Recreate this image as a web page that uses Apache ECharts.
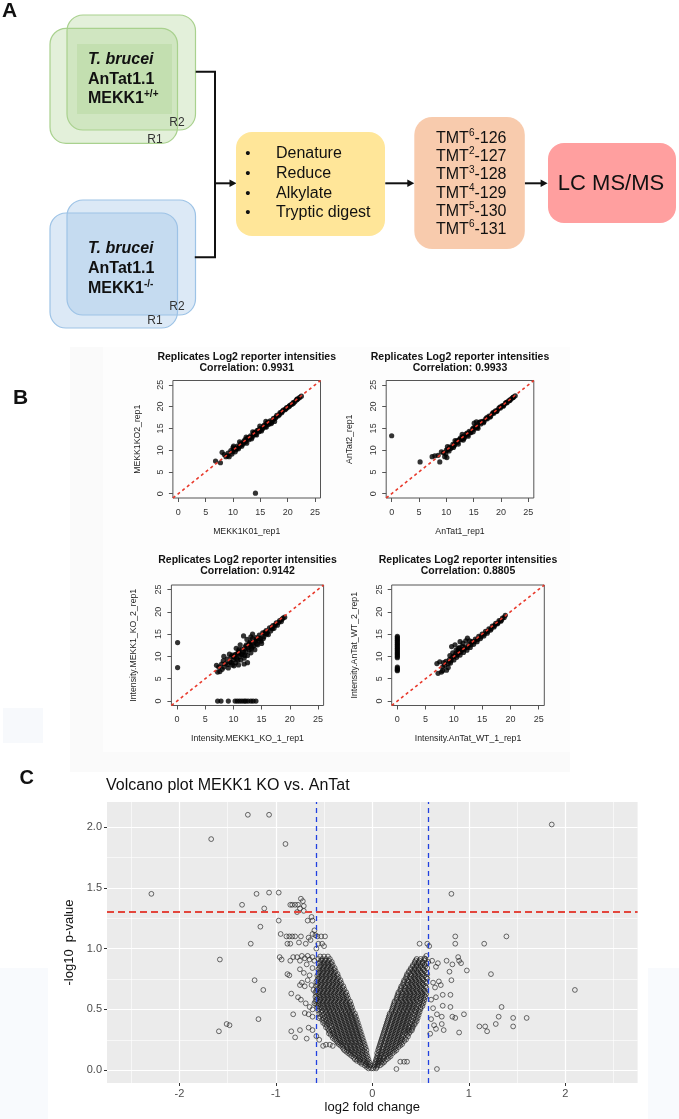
<!DOCTYPE html>
<html>
<head>
<meta charset="utf-8">
<title>MEKK1 KO proteomics</title>
<script src="https://cdn.jsdelivr.net/npm/echarts@6/dist/echarts.min.js"></script>
<style>
  html, body { margin: 0; padding: 0; background: #fff; }
  #chart { width: 679px; height: 1119px; }
</style>
</head>
<body>
<div id="chart"></div>
<script>
// ---------- data ----------
const FONT = "'Liberation Sans', Arial, sans-serif";

// panel B: four replicate scatter plots (log2 reporter intensities)
const rTicks = [0, 5, 10, 15, 20, 25];
const diagLine = [[-1, -1], [26, 26]];
const plotTitles = ['Replicates Log2 reporter intensities', 'Replicates Log2 reporter intensities',
                    'Replicates Log2 reporter intensities', 'Replicates Log2 reporter intensities'];
const plotCorr = ['Correlation: 0.9931', 'Correlation: 0.9933', 'Correlation: 0.9142', 'Correlation: 0.8805'];
const xNames = ['MEKK1K01_rep1', 'AnTat1_rep1', 'Intensity.MEKK1_KO_1_rep1', 'Intensity.AnTat_WT_1_rep1'];
const yNames = ['MEKK1KO2_rep1', 'AnTat2_rep1', 'Intensity.MEKK1_KO_2_rep1', 'Intensity.AnTat_WT_2_rep1'];

const koRepPoints = [
  [14.1,0.1],[6.8,7.5],[7.7,7.1],[8.0,9.5],[8.4,9.0],[8.7,8.5],[9.3,8.5],[9.1,9.3],[9.0,8.7],
  [9.6,9.9],[9.9,9.6],[10.2,10.3],[10.5,10.1],[10.8,10.9],[11.1,10.7],[11.4,11.5],[11.7,11.3],
  [12.0,12.1],[12.3,11.9],[12.6,12.7],[12.9,12.4],[13.2,13.3],[13.5,13.0],[13.8,13.9],[14.1,13.6],
  [14.4,14.5],[14.7,14.2],[15.0,15.0],[15.3,14.8],[15.6,15.6],[15.9,15.4],[16.2,16.2],[16.5,15.9],
  [16.8,16.7],[17.1,16.4],[17.4,17.3],[17.7,17.3],[18.0,18.0],[18.3,17.9],[18.6,18.6],[18.9,18.6],
  [19.2,19.2],[19.5,19.3],[19.8,19.8],[20.1,19.9],[20.4,20.3],[20.7,20.5],[21.0,20.9],[21.3,21.1],
  [21.6,21.5],[21.9,21.8],[22.2,22.1],[22.5,22.4],
  [10.4,9.6],[11.0,10.3],[11.6,10.9],[12.5,11.6],[13.4,12.6],[14.3,13.5],[15.2,14.4],[16.1,15.3],
  [17.0,16.1],[17.6,16.6],[10.0,10.6],[11.2,11.9],[12.4,13.0],[13.6,14.2],[14.9,15.5],[16.0,16.6],
  [9.8,9.1],[10.1,10.9],
  [10.7,10.4],[11.3,11.0],[11.9,11.6],[12.2,12.4],[12.8,12.9],[13.1,12.8],[13.7,13.4],[14.0,14.1],
  [14.6,14.6],[14.9,14.4],[15.5,15.1],[15.8,15.8],[16.4,16.4],[16.7,16.2],[17.3,16.9],[17.9,17.6],
  [18.5,18.2],[19.0,18.9],[19.7,19.5],[20.3,20.1],[21.0,20.7],[21.7,21.7]
];
const wtRepPoints = [
  [0,13.3],[5.2,7.3],[7.4,8.5],[7.9,8.7],[8.5,8.8],[8.8,7.3],[9.1,9.6],[9.5,9.4],[9.7,8.5],[9.9,9.1],[10.1,8.3],
  [10.0,10.0],[10.3,10.1],[10.6,10.7],[10.9,10.6],[11.2,11.3],[11.5,11.2],[11.8,11.9],[12.1,11.8],
  [12.4,12.5],[12.7,12.4],[13.0,13.1],[13.3,12.9],[13.6,13.7],[13.9,13.5],[14.2,14.3],[14.5,14.1],
  [14.8,14.9],[15.1,14.8],[15.4,15.5],[15.7,15.4],[16.0,16.3],[16.3,16.0],[16.6,16.6],[16.9,16.6],
  [17.2,17.2],[17.5,17.2],[17.8,17.8],[18.1,17.8],[18.4,18.4],[18.7,18.5],[19.0,19.0],[19.3,19.1],
  [19.6,19.6],[19.9,19.7],[20.2,20.2],[20.5,20.3],[20.8,20.8],[21.1,20.9],[21.4,21.3],[21.7,21.6],
  [22.0,21.9],[22.3,22.2],[22.6,22.5],
  [10.5,9.8],[11.3,10.6],[12.2,11.4],[13.1,12.3],[14.0,13.2],[14.9,14.2],[15.8,15.0],[15.1,16.2],
  [15.5,16.5],[10.2,10.8],[11.6,12.2],[12.9,13.6],
  [10.8,10.4],[11.4,11.0],[12.0,12.2],[12.6,12.8],[13.2,12.7],[13.8,13.9],[14.4,14.0],[15.0,15.1],
  [15.6,15.2],[16.2,16.5],[16.8,16.3],[17.4,17.5],[18.0,17.6],[18.6,18.7],[19.2,18.9],[19.8,19.9],
  [20.4,20.1],[21.0,21.0],[21.6,21.4],[22.2,22.1]
];
const koIntPoints = [
  [0.1,13.1],[0.1,7.5],
  [7.2,0],[7.8,0],[9.1,0],[10.3,0],[10.7,0],[11.1,0],[11.5,0],[11.9,0],[12.2,0],[12.6,0],[13.1,0],[13.5,0],[14.0,0],
  [7.0,8.0],[7.2,6.5],[7.6,6.6],[7.4,7.6],[7.9,8.3],[8.3,7.6],[8.2,9.0],[8.6,8.4],[9.1,7.4],[8.9,9.4],
  [9.4,8.8],[9.6,9.9],[9.8,8.1],[10.0,9.2],[10.3,10.4],[10.4,8.6],[10.6,9.6],[10.9,8.1],[10.9,11.0],
  [11.1,10.0],[11.3,9.2],[11.5,11.6],[11.6,10.5],[11.9,8.3],[11.9,9.6],[12.1,12.2],[12.2,11.0],
  [12.5,8.6],[12.5,10.2],[12.7,12.7],[12.8,11.5],[13.0,13.3],[13.1,10.8],[13.3,12.1],[13.4,14.0],
  [13.6,13.1],[13.8,11.5],[14.0,14.2],[14.1,12.8],[14.4,13.6],[14.6,14.8],[14.8,14.0],[15.0,12.9],
  [15.2,15.3],[15.4,14.4],[15.8,15.8],[15.9,15.0],[16.2,14.9],[16.4,16.4],[16.6,15.7],[17.0,16.9],
  [17.2,16.3],[17.6,17.5],[17.8,17.0],[18.2,18.0],[18.5,17.8],[18.8,18.6],[19.1,18.8],
  [11.8,14.6],[13.1,14.4],[13.4,15.0],[10.5,11.8],[11.2,12.6],[12.4,13.8],[9.3,10.5],[8.3,10.0],
  [10.1,10.0],[11.0,10.8],[12.0,11.7],[13.0,12.5],[14.2,13.9],[15.6,15.1],[16.9,16.2],
  [9.8,10.3],[10.2,9.8],[10.6,10.6],[10.8,9.2],[11.0,11.5],[11.4,10.4],[11.8,11.0],[12.0,10.2],
  [12.3,12.6],[12.6,11.9],[12.9,13.0],[13.2,11.7],[13.6,12.4],[13.9,13.4],[14.3,12.6],[14.5,14.1],
  [14.9,13.4],[15.3,14.0],[15.6,15.4],[16.0,15.4],[16.8,16.5],[17.4,17.0],[18.0,17.6],[18.6,18.3],
  [9.0,8.2],[9.6,8.6],[10.1,7.9],[8.0,7.1]
];
const wtIntPoints = [
  [0,14.5],[0,14.2],[0,13.9],[0,13.6],[0,13.3],[0,13.0],[0,12.7],[0,12.4],[0,12.1],[0,11.8],[0,11.5],
  [0,11.2],[0,10.9],[0,10.6],[0,10.3],[0,10.0],[0,9.7],[0,7.6],[0,7.3],[0,7.0],[0,6.8],
  [7.0,8.4],[7.2,6.2],[7.5,8.8],[7.8,6.5],[8.0,7.6],[8.4,8.0],[8.7,6.9],[8.6,8.9],[9.0,7.5],[9.2,9.3],
  [9.4,8.5],[9.6,12.2],[9.7,9.8],[10.0,9.2],[10.2,12.6],[10.3,10.5],[10.5,9.8],[10.8,11.8],[10.9,10.9],
  [11.1,13.3],[11.1,10.3],[11.4,11.4],[11.6,12.9],[11.7,10.9],[12.0,12.1],[12.1,13.5],[12.3,11.4],
  [12.4,14.1],[12.6,12.6],[12.9,12.0],[13.2,13.3],[13.5,12.7],[13.8,13.9],[14.1,13.3],[14.4,14.5],
  [14.7,14.0],[15.0,15.0],[15.3,14.6],[15.6,15.6],[15.9,15.2],[16.2,16.2],[16.5,15.9],[16.8,16.8],
  [17.1,16.6],[17.4,17.4],[17.7,17.3],[18.0,18.0],[18.3,17.9],[18.6,18.6],[18.9,18.7],[19.1,19.2],
  [11.0,12.0],[10.4,11.4],[9.8,10.8],
  [9.0,8.4],[9.5,9.0],[10.0,10.0],[10.6,10.3],[11.2,11.0],[11.8,11.6],[12.4,12.0],[13.0,12.6],
  [13.6,13.3],[14.2,13.8],[14.8,14.4],[15.4,15.0],[16.0,15.6],[16.6,16.2],[17.2,16.9],[17.8,17.5],
  [18.4,18.1],[10.7,11.2],[11.5,12.2],[12.8,13.5],[9.3,10.2],[8.2,8.6],[8.0,6.8]
];
const repSeries = [koRepPoints, wtRepPoints, koIntPoints, wtIntPoints];

// panel C: volcano plot
const volcanoXTicks = [-2, -1, 0, 1, 2];
const volcanoXMinor = [-2.5, -1.5, -0.5, 0.5, 1.5, 2.5];
const volcanoYTicks = [0, 0.5, 1, 1.5, 2];
const volcanoYMinor = [0.25, 0.75, 1.25, 1.75];
const fcCutoffs = [-0.585, 0.585];
const pCutoff = 1.301;

// dense V, one row per p-value level: [y, [x, ...]]
const leftArmRows = [
  [0.015, [-0.01, -0.04]],
  [0.0275, [-0.03, -0.06]],
  [0.04, [-0.02, -0.05, -0.08]],
  [0.0525, [-0.04, -0.07, -0.11]],
  [0.065, [-0.03, -0.06, -0.10, -0.13]],
  [0.0775, [-0.05, -0.09, -0.13, -0.16]],
  [0.09, [-0.04, -0.08, -0.12, -0.15, -0.18]],
  [0.1025, [-0.06, -0.10, -0.14, -0.19]],
  [0.115, [-0.05, -0.09, -0.13, -0.17, -0.21]],
  [0.1275, [-0.07, -0.11, -0.15, -0.19, -0.23]],
  [0.14, [-0.06, -0.10, -0.14, -0.18, -0.22, -0.25]],
  [0.1525, [-0.08, -0.12, -0.16, -0.20, -0.24, -0.27]],
  [0.165, [-0.06, -0.10, -0.14, -0.18, -0.22, -0.26, -0.29]],
  [0.1775, [-0.08, -0.13, -0.17, -0.21, -0.25, -0.30]],
  [0.19, [-0.07, -0.11, -0.15, -0.19, -0.23, -0.27, -0.31]],
  [0.2025, [-0.09, -0.14, -0.18, -0.22, -0.26, -0.30, -0.33]],
  [0.215, [-0.08, -0.12, -0.16, -0.20, -0.24, -0.28, -0.32, -0.35]],
  [0.2275, [-0.10, -0.14, -0.18, -0.22, -0.26, -0.30, -0.34, -0.36]],
  [0.24, [-0.09, -0.13, -0.17, -0.21, -0.25, -0.29, -0.33, -0.37]],
  [0.2525, [-0.11, -0.15, -0.19, -0.23, -0.27, -0.31, -0.35, -0.39]],
  [0.265, [-0.10, -0.14, -0.18, -0.22, -0.26, -0.30, -0.34, -0.38, -0.41]],
  [0.2775, [-0.12, -0.16, -0.20, -0.24, -0.28, -0.32, -0.36, -0.40]],
  [0.29, [-0.11, -0.15, -0.19, -0.23, -0.27, -0.31, -0.35, -0.39, -0.43]],
  [0.3025, [-0.13, -0.17, -0.21, -0.25, -0.29, -0.33, -0.37, -0.41, -0.45]],
  [0.315, [-0.12, -0.16, -0.20, -0.24, -0.28, -0.32, -0.36, -0.40, -0.44]],
  [0.3275, [-0.14, -0.18, -0.22, -0.26, -0.30, -0.34, -0.38, -0.42, -0.45]],
  [0.34, [-0.13, -0.17, -0.21, -0.25, -0.29, -0.33, -0.37, -0.41, -0.46]],
  [0.3525, [-0.15, -0.19, -0.23, -0.27, -0.31, -0.35, -0.39, -0.44, -0.48]],
  [0.365, [-0.14, -0.18, -0.22, -0.26, -0.30, -0.34, -0.38, -0.42, -0.47]],
  [0.3775, [-0.16, -0.20, -0.24, -0.28, -0.32, -0.36, -0.40, -0.45, -0.49]],
  [0.39, [-0.15, -0.19, -0.23, -0.27, -0.31, -0.35, -0.39, -0.43, -0.47, -0.51]],
  [0.4025, [-0.17, -0.21, -0.25, -0.29, -0.33, -0.37, -0.41, -0.45, -0.50]],
  [0.415, [-0.16, -0.20, -0.24, -0.28, -0.32, -0.36, -0.40, -0.44, -0.48, -0.52]],
  [0.4275, [-0.18, -0.22, -0.26, -0.30, -0.34, -0.38, -0.42, -0.46, -0.51, -0.55]],
  [0.44, [-0.17, -0.21, -0.25, -0.29, -0.33, -0.37, -0.41, -0.45, -0.49, -0.54]],
  [0.4525, [-0.19, -0.23, -0.27, -0.31, -0.35, -0.39, -0.43, -0.47, -0.52]],
  [0.465, [-0.18, -0.22, -0.26, -0.30, -0.34, -0.38, -0.42, -0.46, -0.50, -0.55]],
  [0.4775, [-0.21, -0.24, -0.28, -0.32, -0.36, -0.40, -0.44, -0.48, -0.53]],
  [0.49, [-0.20, -0.24, -0.28, -0.32, -0.36, -0.40, -0.44, -0.48, -0.52, -0.56]],
  [0.5025, [-0.22, -0.26, -0.30, -0.34, -0.38, -0.42, -0.46, -0.50, -0.55]],
  [0.515, [-0.21, -0.25, -0.29, -0.33, -0.37, -0.41, -0.45, -0.49, -0.53, -0.57]],
  [0.5275, [-0.23, -0.27, -0.31, -0.35, -0.39, -0.43, -0.47, -0.51, -0.56]],
  [0.54, [-0.22, -0.26, -0.30, -0.34, -0.38, -0.42, -0.46, -0.50, -0.54, -0.58]],
  [0.5525, [-0.24, -0.28, -0.32, -0.36, -0.40, -0.44, -0.48, -0.52, -0.56]],
  [0.565, [-0.23, -0.27, -0.31, -0.35, -0.39, -0.43, -0.47, -0.51, -0.55, -0.59]],
  [0.5775, [-0.26, -0.30, -0.34, -0.38, -0.42, -0.46, -0.50, -0.54, -0.58]],
  [0.59, [-0.25, -0.29, -0.33, -0.37, -0.41, -0.45, -0.49, -0.53, -0.57]],
  [0.6025, [-0.27, -0.31, -0.35, -0.39, -0.43, -0.47, -0.51, -0.55, -0.59]],
  [0.615, [-0.26, -0.30, -0.34, -0.38, -0.42, -0.46, -0.50, -0.54, -0.58]],
  [0.6275, [-0.28, -0.32, -0.36, -0.40, -0.44, -0.48, -0.52, -0.56]],
  [0.64, [-0.27, -0.31, -0.35, -0.39, -0.43, -0.47, -0.51, -0.55, -0.59]],
  [0.6525, [-0.30, -0.34, -0.38, -0.42, -0.46, -0.50, -0.54, -0.58]],
  [0.665, [-0.29, -0.33, -0.37, -0.41, -0.45, -0.49, -0.53, -0.57]],
  [0.6775, [-0.31, -0.35, -0.39, -0.43, -0.47, -0.51, -0.55]],
  [0.69, [-0.30, -0.34, -0.38, -0.42, -0.46, -0.50, -0.54, -0.58]],
  [0.7025, [-0.33, -0.37, -0.41, -0.45, -0.49, -0.53, -0.57]],
  [0.715, [-0.32, -0.36, -0.40, -0.44, -0.48, -0.52, -0.56]],
  [0.7275, [-0.34, -0.38, -0.42, -0.46, -0.50, -0.54, -0.58]],
  [0.74, [-0.33, -0.37, -0.41, -0.45, -0.49, -0.53, -0.57]],
  [0.7525, [-0.36, -0.40, -0.44, -0.48, -0.52, -0.56]],
  [0.765, [-0.35, -0.39, -0.43, -0.47, -0.51, -0.55]],
  [0.7775, [-0.37, -0.41, -0.45, -0.49, -0.53, -0.57]],
  [0.79, [-0.36, -0.40, -0.44, -0.48, -0.52, -0.56]],
  [0.8025, [-0.39, -0.43, -0.47, -0.51, -0.55]],
  [0.815, [-0.38, -0.42, -0.46, -0.50, -0.54]],
  [0.8275, [-0.40, -0.44, -0.48, -0.52, -0.56]],
  [0.84, [-0.39, -0.43, -0.47, -0.51, -0.55]],
  [0.8525, [-0.42, -0.46, -0.50, -0.54]],
  [0.865, [-0.41, -0.45, -0.49, -0.53]],
  [0.8775, [-0.43, -0.47, -0.51, -0.55]],
  [0.89, [-0.42, -0.46, -0.50, -0.54]],
  [0.9025, [-0.45, -0.49, -0.53]],
  [0.915, [-0.44, -0.48, -0.52, -0.56]],
  [0.935, [-0.46, -0.50, -0.54]]
];
const rightArmRows = [
  [0.015, [0.01, 0.04]],
  [0.0275, [0.02, 0.05]],
  [0.04, [0.02, 0.05, 0.08]],
  [0.0525, [0.03, 0.06, 0.10]],
  [0.065, [0.03, 0.06, 0.09, 0.12]],
  [0.0775, [0.04, 0.07, 0.10, 0.13]],
  [0.09, [0.04, 0.07, 0.11, 0.15]],
  [0.1025, [0.05, 0.08, 0.12, 0.17]],
  [0.115, [0.05, 0.08, 0.12, 0.16, 0.19]],
  [0.1275, [0.06, 0.10, 0.14, 0.18]],
  [0.14, [0.05, 0.09, 0.13, 0.17, 0.21]],
  [0.1525, [0.07, 0.11, 0.15, 0.19, 0.23]],
  [0.165, [0.06, 0.10, 0.14, 0.18, 0.22, 0.25]],
  [0.1775, [0.07, 0.12, 0.16, 0.20, 0.24]],
  [0.19, [0.07, 0.11, 0.15, 0.19, 0.23, 0.27]],
  [0.2025, [0.08, 0.13, 0.17, 0.21, 0.25, 0.29]],
  [0.215, [0.08, 0.12, 0.16, 0.20, 0.24, 0.28, 0.31]],
  [0.2275, [0.09, 0.14, 0.18, 0.22, 0.26, 0.30]],
  [0.24, [0.09, 0.13, 0.17, 0.21, 0.25, 0.29, 0.33]],
  [0.2525, [0.10, 0.15, 0.19, 0.23, 0.27, 0.31, 0.35]],
  [0.265, [0.10, 0.14, 0.18, 0.22, 0.26, 0.30, 0.34]],
  [0.2775, [0.11, 0.16, 0.20, 0.24, 0.28, 0.32, 0.37]],
  [0.29, [0.11, 0.15, 0.19, 0.23, 0.27, 0.31, 0.36]],
  [0.3025, [0.12, 0.17, 0.21, 0.25, 0.29, 0.34, 0.38]],
  [0.315, [0.12, 0.16, 0.20, 0.24, 0.28, 0.32, 0.36, 0.39]],
  [0.3275, [0.13, 0.18, 0.22, 0.26, 0.30, 0.34, 0.38, 0.41]],
  [0.34, [0.13, 0.17, 0.21, 0.25, 0.29, 0.33, 0.37, 0.41]],
  [0.3525, [0.14, 0.19, 0.23, 0.27, 0.31, 0.35, 0.39, 0.42]],
  [0.365, [0.14, 0.18, 0.22, 0.26, 0.30, 0.34, 0.38, 0.42]],
  [0.3775, [0.15, 0.20, 0.24, 0.28, 0.32, 0.36, 0.41, 0.44]],
  [0.39, [0.15, 0.19, 0.23, 0.27, 0.31, 0.35, 0.39, 0.44]],
  [0.4025, [0.16, 0.21, 0.25, 0.29, 0.33, 0.37, 0.42, 0.46]],
  [0.415, [0.16, 0.20, 0.24, 0.28, 0.32, 0.36, 0.40, 0.45]],
  [0.4275, [0.17, 0.22, 0.26, 0.30, 0.34, 0.38, 0.43, 0.47]],
  [0.44, [0.17, 0.21, 0.25, 0.29, 0.33, 0.37, 0.41, 0.46]],
  [0.4525, [0.18, 0.23, 0.27, 0.31, 0.35, 0.39, 0.44, 0.48]],
  [0.465, [0.18, 0.22, 0.26, 0.30, 0.34, 0.38, 0.42, 0.47]],
  [0.4775, [0.20, 0.24, 0.28, 0.32, 0.36, 0.40, 0.45, 0.49]],
  [0.49, [0.20, 0.24, 0.28, 0.32, 0.36, 0.40, 0.44, 0.48]],
  [0.5025, [0.21, 0.26, 0.30, 0.34, 0.38, 0.42, 0.46, 0.50]],
  [0.515, [0.21, 0.25, 0.29, 0.33, 0.37, 0.41, 0.45, 0.50]],
  [0.5275, [0.22, 0.27, 0.31, 0.35, 0.39, 0.43, 0.48, 0.52]],
  [0.54, [0.22, 0.26, 0.30, 0.34, 0.38, 0.42, 0.46, 0.51]],
  [0.5525, [0.23, 0.28, 0.32, 0.36, 0.40, 0.44, 0.49, 0.53]],
  [0.565, [0.23, 0.27, 0.31, 0.35, 0.39, 0.43, 0.47, 0.52]],
  [0.5775, [0.25, 0.30, 0.34, 0.38, 0.42, 0.46, 0.50, 0.54]],
  [0.59, [0.25, 0.29, 0.33, 0.37, 0.41, 0.45, 0.49, 0.53]],
  [0.6025, [0.26, 0.31, 0.35, 0.39, 0.43, 0.47, 0.51, 0.55]],
  [0.615, [0.26, 0.30, 0.34, 0.38, 0.42, 0.46, 0.50, 0.54]],
  [0.6275, [0.27, 0.32, 0.36, 0.40, 0.44, 0.48, 0.52, 0.56]],
  [0.64, [0.27, 0.31, 0.35, 0.39, 0.43, 0.47, 0.51, 0.55]],
  [0.6525, [0.29, 0.34, 0.38, 0.42, 0.46, 0.50, 0.54]],
  [0.665, [0.29, 0.33, 0.37, 0.41, 0.45, 0.49, 0.53]],
  [0.6775, [0.30, 0.35, 0.39, 0.43, 0.47, 0.51, 0.56]],
  [0.69, [0.30, 0.34, 0.38, 0.42, 0.46, 0.50, 0.55]],
  [0.7025, [0.32, 0.37, 0.41, 0.45, 0.49, 0.53]],
  [0.715, [0.32, 0.36, 0.40, 0.44, 0.48, 0.52, 0.56]],
  [0.7275, [0.33, 0.38, 0.42, 0.46, 0.50, 0.55]],
  [0.74, [0.33, 0.37, 0.41, 0.45, 0.49, 0.53]],
  [0.7525, [0.35, 0.40, 0.44, 0.48, 0.52, 0.57]],
  [0.765, [0.35, 0.39, 0.43, 0.47, 0.51, 0.56]],
  [0.7775, [0.36, 0.41, 0.45, 0.49, 0.54]],
  [0.79, [0.36, 0.40, 0.44, 0.48, 0.52, 0.57]],
  [0.8025, [0.38, 0.43, 0.47, 0.51, 0.56]],
  [0.815, [0.38, 0.42, 0.46, 0.50, 0.54]],
  [0.8275, [0.40, 0.44, 0.48, 0.53]],
  [0.84, [0.40, 0.44, 0.48, 0.52, 0.57]],
  [0.8525, [0.42, 0.46, 0.50, 0.55]],
  [0.865, [0.42, 0.46, 0.50, 0.54]],
  [0.8775, [0.44, 0.48, 0.52, 0.56]],
  [0.89, [0.44, 0.48, 0.52, 0.58]],
  [0.9025, [0.45, 0.49, 0.54]],
  [0.915, [0.46, 0.50, 0.55]]
];
// scattered proteins outside the dense V: [log2FC, -log10 p]
const volcanoScatter = [
  [-2.29,1.45],[-1.67,1.90],[-1.29,2.10],[-1.07,2.10],[-0.90,1.86],[-1.20,1.45],[-1.07,1.46],[-0.97,1.46],
  [-1.35,1.36],[-1.12,1.33],[-0.74,1.41],[-0.72,1.39],[-0.77,1.36],[-0.80,1.36],[-0.83,1.36],[-0.85,1.36],
  [-0.71,1.35],[-0.75,1.33],[-0.71,1.31],[-0.78,1.30],[-0.63,1.26],[-0.62,1.23],[-0.67,1.23],[-0.97,1.23],
  [-1.16,1.18],[-0.60,1.15],[-0.59,1.11],[-1.26,1.04],[-1.58,0.91],
  [-0.95,1.12],[-0.89,1.10],[-0.86,1.10],[-0.83,1.10],[-0.80,1.10],[-0.74,1.10],[-0.66,1.09],[-0.62,1.12],
  [-0.57,1.10],[-0.53,1.10],[-0.49,1.10],[-0.88,1.04],[-0.85,1.04],[-0.76,1.05],[-0.69,1.04],[-0.64,1.07],
  [-0.56,1.04],[-0.52,1.04],[-0.50,1.02],[-0.58,1.00],
  [-1.22,0.74],[-1.13,0.66],[-1.18,0.42],[-1.51,0.38],[-1.48,0.37],[-1.59,0.32],
  [-0.96,0.93],[-0.94,0.91],[-0.85,0.90],[-0.82,0.93],[-0.78,0.93],[-0.75,0.90],[-0.73,0.94],[-0.70,0.92],
  [-0.67,0.94],[-0.65,0.91],[-0.62,0.93],[-0.60,0.90],
  [-0.88,0.79],[-0.86,0.78],[-0.75,0.83],[-0.71,0.80],[-0.68,0.87],[-0.65,0.78],[-0.62,0.84],
  [-0.84,0.63],[-0.75,0.70],[-0.73,0.72],[-0.70,0.69],[-0.67,0.74],[-0.63,0.70],[-0.61,0.66],
  [-0.77,0.60],[-0.74,0.58],[-0.69,0.55],[-0.65,0.52],[-0.62,0.50],[-0.60,0.55],
  [-0.82,0.46],[-0.70,0.47],[-0.66,0.46],[-0.62,0.44],
  [-0.84,0.32],[-0.75,0.33],[-0.66,0.35],[-0.62,0.33],[-0.80,0.27],[-0.68,0.26],[-0.58,0.28],[-0.55,0.25],
  [-0.51,0.20],[-0.48,0.21],[-0.41,0.20],[-0.44,0.21],
  [1.86,2.02],[0.82,1.45],[0.86,1.10],[1.39,1.10],[0.86,1.04],[1.16,1.04],[0.49,1.04],[0.57,1.04],[0.59,1.02],
  [0.77,0.90],[0.83,0.87],[0.89,0.93],[0.90,0.90],[0.92,0.88],[0.98,0.82],[1.23,0.79],[0.68,0.88],[0.62,0.90],
  [0.66,0.85],[0.80,0.81],[0.82,0.74],[0.71,0.70],[0.69,0.73],[0.63,0.72],[0.65,0.68],
  [0.81,0.62],[0.73,0.62],[0.66,0.60],[0.61,0.58],[2.10,0.66],[1.34,0.52],
  [0.81,0.52],[0.73,0.53],[0.63,0.51],[0.95,0.46],[0.72,0.44],[0.83,0.44],[0.86,0.43],[0.67,0.46],[0.61,0.42],
  [1.31,0.44],[1.46,0.43],[1.60,0.43],[1.11,0.36],[1.17,0.36],[1.19,0.32],[1.28,0.38],[1.46,0.36],
  [0.90,0.31],[0.72,0.38],[0.74,0.33],[0.64,0.37],[0.66,0.34],[0.60,0.30],[0.67,0.01],
  [0.25,0.01],[0.29,0.07],[0.33,0.07],[0.36,0.07],[0.54,0.92],[0.56,0.94]
];

function rowsToPoints(rows) {
  const pts = [];
  rows.forEach(function (r) { r[1].forEach(function (x) { pts.push([x, r[0]]); }); });
  return pts;
}
const volcanoPoints = rowsToPoints(leftArmRows).concat(rowsToPoints(rightArmRows), volcanoScatter);

// ---------- layout ----------
const rGrids = [
  { left: 172.9, top: 380.5, width: 147.6, height: 117.5 },
  { left: 386.2, top: 380.5, width: 147.6, height: 117.5 },
  { left: 171.4, top: 585, width: 152.2, height: 120.5 },
  { left: 391.7, top: 585, width: 152.6, height: 120.5 }
];
const rTitleY = [357, 357, 560, 560];
const rYNameGap = [31, 32, 33, 33];
const volcanoGrid = { left: 107, top: 802, width: 530.6, height: 281 };

// ---------- graphic helpers ----------
function rect(x, y, w, h, r, fill, stroke, z) {
  return { type: 'rect', silent: true, z: z || 0,
    shape: { x: x, y: y, width: w, height: h, r: r },
    style: { fill: fill, stroke: stroke || null, lineWidth: stroke ? 1.2 : 0 } };
}
function text(x, y, str, size, o) {
  o = o || {};
  const style = {
    text: str, fontSize: size, fontFamily: FONT,
    fontWeight: o.weight || 'normal', fontStyle: o.italic ? 'italic' : 'normal',
    fill: o.color || '#111', align: o.align || 'left', verticalAlign: o.valign || 'middle'
  };
  if (o.rich) style.rich = o.rich;
  return { type: 'text', x: x, y: y, silent: true, style: style };
}
function sup(size, weight) {
  return {
    n: { fontSize: size, fontWeight: weight, fontFamily: FONT, fill: '#111', lineHeight: size + 4 },
    s: { fontSize: Math.round(size * 0.6), fontWeight: weight, fontFamily: FONT, fill: '#111',
         verticalAlign: 'top', lineHeight: Math.round(size * 0.72) }
  };
}
function polyline(pts) {
  return { type: 'polyline', silent: true, shape: { points: pts }, style: { stroke: '#111', lineWidth: 2, fill: null } };
}
function arrow(x1, x2, y) {
  return [
    polyline([[x1, y], [x2 - 5, y]]),
    { type: 'polygon', silent: true, shape: { points: [[x2, y], [x2 - 7, y - 3.8], [x2 - 7, y + 3.8]] }, style: { fill: '#111' } }
  ];
}

const greenFill = 'rgba(169,209,142,0.33)', greenLine = '#a9d18e';
const blueFill = 'rgba(157,195,230,0.36)', blueLine = '#9dc3e6';

const graphics = [
  // faint scan backgrounds
  rect(70, 347, 500, 425, 0, '#fafafa', null, -10),
  rect(103, 347, 467, 405, 0, '#fdfdfd', null, -9),
  rect(3, 708, 40, 35, 0, '#f7f9fc', null, -10),
  rect(0, 968, 48, 151, 0, '#f8fafd', null, -10),
  rect(648, 968, 31, 151, 0, '#f8fafd', null, -10),

  // panel labels
  text(2, 11, 'A', 21, { weight: 'bold' }),
  text(13, 398.5, 'B', 21, { weight: 'bold' }),
  text(19.5, 778.5, 'C', 20, { weight: 'bold' }),

  // panel A: wild type replicates
  rect(50, 28.3, 127.5, 115, 16, greenFill, greenLine),
  rect(67, 15, 128.5, 115, 16, greenFill, greenLine),
  rect(77, 44, 95, 70, 0, greenFill, null),
  text(88, 60, 'T. brucei', 16, { weight: 'bold', italic: true }),
  text(88, 80, 'AnTat1.1', 16, { weight: 'bold' }),
  text(88, 99, '{n|MEKK1}{s|+/+}', 16, { rich: sup(16, 'bold') }),
  text(177, 123, 'R2', 12, { align: 'center', color: '#333' }),
  text(155, 140, 'R1', 12, { align: 'center', color: '#333' }),

  // panel A: knockout replicates
  rect(50, 213, 127.5, 115, 16, blueFill, blueLine),
  rect(67, 200, 128.5, 115, 16, blueFill, blueLine),
  text(88, 249, 'T. brucei', 16, { weight: 'bold', italic: true }),
  text(88, 269, 'AnTat1.1', 16, { weight: 'bold' }),
  text(88, 289, '{n|MEKK1}{s|-/-}', 16, { rich: sup(16, 'bold') }),
  text(177, 307, 'R2', 12, { align: 'center', color: '#333' }),
  text(155, 321, 'R1', 12, { align: 'center', color: '#333' }),

  // connectors
  polyline([[195.7, 71.7], [215, 71.7], [215, 257.3], [194.8, 257.3]])
].concat(
  arrow(215, 236.5, 183.3),
  arrow(385.3, 414.3, 183.3),
  arrow(524.7, 547.6, 183.3),
  [
    rect(236, 132, 149, 104, 16, '#ffe699', null),
    text(248, 154, '•', 15, { align: 'center' }), text(276, 154, 'Denature', 16),
    text(248, 174, '•', 15, { align: 'center' }), text(276, 174, 'Reduce', 16),
    text(248, 194, '•', 15, { align: 'center' }), text(276, 194, 'Alkylate', 16),
    text(248, 213, '•', 15, { align: 'center' }), text(276, 213, 'Tryptic digest', 16),

    rect(414.3, 117, 110.5, 132, 18, '#f8cbad', null),
    text(436, 138.5, '{n|TMT}{s|6}{n|-126}', 16, { rich: sup(16, 'normal') }),
    text(436, 156.7, '{n|TMT}{s|2}{n|-127}', 16, { rich: sup(16, 'normal') }),
    text(436, 174.9, '{n|TMT}{s|3}{n|-128}', 16, { rich: sup(16, 'normal') }),
    text(436, 193.1, '{n|TMT}{s|4}{n|-129}', 16, { rich: sup(16, 'normal') }),
    text(436, 211.3, '{n|TMT}{s|5}{n|-130}', 16, { rich: sup(16, 'normal') }),
    text(436, 229.5, '{n|TMT}{s|6}{n|-131}', 16, { rich: sup(16, 'normal') }),

    rect(548, 143, 128, 80, 16, '#ff9f9f', null),
    text(611, 183.5, 'LC MS/MS', 22, { align: 'center' }),

    // volcano title
    text(106, 786, 'Volcano plot MEKK1 KO vs. AnTat', 16)
  ]
);

// panel B titles
rGrids.forEach(function (g, i) {
  const cx = g.left + g.width / 2;
  graphics.push(text(cx, rTitleY[i], plotTitles[i], 10.5, { weight: 'bold', align: 'center' }));
  graphics.push(text(cx, rTitleY[i] + 11.3, plotCorr[i], 10.5, { weight: 'bold', align: 'center' }));
});

// ---------- axes ----------
const xAxes = [], yAxes = [], grids = [], series = [];
rGrids.forEach(function (g, i) {
  grids.push({ left: g.left, top: g.top, width: g.width, height: g.height, show: true,
    borderColor: '#555', borderWidth: 1, backgroundColor: 'transparent' });
  xAxes.push({
    gridIndex: i, type: 'value', min: -1, max: 26,
    name: xNames[i], nameLocation: 'middle', nameGap: 29,
    nameTextStyle: { fontSize: 8.7, color: '#222', fontFamily: FONT },
    axisLine: { show: false, onZero: false }, splitLine: { show: false },
    axisTick: { show: true, customValues: rTicks, length: 4, lineStyle: { color: '#555' } },
    axisLabel: { customValues: rTicks, fontSize: 9, color: '#333', margin: 10, fontFamily: FONT }
  });
  yAxes.push({
    gridIndex: i, type: 'value', min: -1, max: 26,
    name: yNames[i], nameLocation: 'middle', nameGap: rYNameGap[i],
    nameTextStyle: { fontSize: 8.7, color: '#222', fontFamily: FONT },
    axisLine: { show: false, onZero: false }, splitLine: { show: false },
    axisTick: { show: true, customValues: rTicks, length: 4, lineStyle: { color: '#555' } },
    axisLabel: { customValues: rTicks, fontSize: 9, color: '#333', margin: 8, rotate: 90, fontFamily: FONT }
  });
  series.push({
    type: 'scatter', xAxisIndex: i, yAxisIndex: i, data: repSeries[i],
    symbol: 'circle', symbolSize: 5.2, itemStyle: { color: '#000' }, silent: true, z: 2
  });
  series.push({
    type: 'line', xAxisIndex: i, yAxisIndex: i, data: diagLine, symbol: 'none', silent: true, z: 3,
    lineStyle: { color: '#e8392b', width: 1.6, type: [3, 3] }
  });
});

grids.push({ left: volcanoGrid.left, top: volcanoGrid.top, width: volcanoGrid.width, height: volcanoGrid.height,
  show: true, borderWidth: 0, backgroundColor: '#ebebeb' });
xAxes.push({
  gridIndex: 4, type: 'value', min: -2.75, max: 2.75,
  name: 'log2 fold change', nameLocation: 'middle', nameGap: 18,
  nameTextStyle: { fontSize: 13, color: '#111', fontFamily: FONT },
  axisLine: { show: false, onZero: false }, splitLine: { show: false },
  axisTick: { show: true, customValues: volcanoXTicks, length: 3, lineStyle: { color: '#333' } },
  axisLabel: { customValues: volcanoXTicks, fontSize: 11, color: '#4d4d4d', margin: 5, fontFamily: FONT }
});
yAxes.push({
  gridIndex: 4, type: 'value', min: -0.105, max: 2.205,
  name: '-log10  p-value', nameLocation: 'middle', nameGap: 30,
  nameTextStyle: { fontSize: 13, color: '#111', fontFamily: FONT },
  axisLine: { show: false, onZero: false }, splitLine: { show: false },
  axisTick: { show: true, customValues: volcanoYTicks, length: 3, lineStyle: { color: '#333' } },
  axisLabel: { customValues: volcanoYTicks, fontSize: 11, color: '#4d4d4d', margin: 5, fontFamily: FONT,
    formatter: function (v) { return v.toFixed(1); } }
});

function gridLine(axis, v, w) {
  const d = { lineStyle: { color: '#ffffff', width: w, type: 'solid' } };
  d[axis] = v;
  return d;
}
const volcanoGridLines = []
  .concat(volcanoXMinor.map(function (v) { return gridLine('xAxis', v, 0.6); }))
  .concat(volcanoYMinor.map(function (v) { return gridLine('yAxis', v, 0.6); }))
  .concat(volcanoXTicks.map(function (v) { return gridLine('xAxis', v, 1.2); }))
  .concat(volcanoYTicks.map(function (v) { return gridLine('yAxis', v, 1.2); }));

series.push({
  type: 'scatter', xAxisIndex: 4, yAxisIndex: 4, data: [], silent: true, z: 1,
  markLine: { z: 1, silent: true, animation: false, symbol: ['none', 'none'], label: { show: false },
    emphasis: { disabled: true }, data: volcanoGridLines }
});
series.push({
  type: 'scatter', xAxisIndex: 4, yAxisIndex: 4, data: volcanoPoints, silent: true, z: 2,
  symbol: 'circle', symbolSize: 4.8, large: false,
  itemStyle: { color: 'rgba(0,0,0,0)', borderColor: '#1a1a1a', borderWidth: 0.8 }
});
series.push({
  type: 'scatter', xAxisIndex: 4, yAxisIndex: 4, data: [], silent: true, z: 5,
  markLine: { z: 5, silent: true, animation: false, symbol: ['none', 'none'], label: { show: false },
    emphasis: { disabled: true },
    data: fcCutoffs.map(function (v) {
      return { xAxis: v, lineStyle: { color: '#2040e0', width: 1.3, type: [5, 4] } };
    }).concat([{ yAxis: pCutoff, lineStyle: { color: '#e3463c', width: 1.8, type: [7, 4] } }])
  }
});

const chart = echarts.init(document.getElementById('chart'), null, { renderer: 'canvas' });
chart.setOption({
  animation: false,
  backgroundColor: '#ffffff',
  textStyle: { fontFamily: FONT },
  graphic: graphics,
  grid: grids,
  xAxis: xAxes,
  yAxis: yAxes,
  series: series
});
</script>
</body>
</html>
